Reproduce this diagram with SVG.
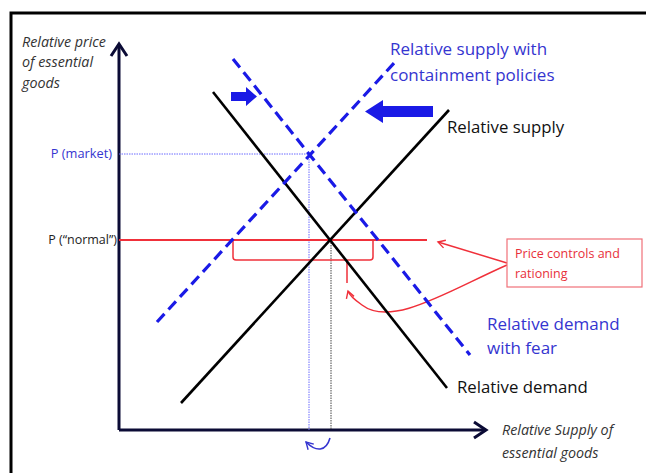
<svg xmlns="http://www.w3.org/2000/svg" width="646" height="473" viewBox="0 0 646 473">
<style>
.ax{stroke:#0b0b35;stroke-width:3;fill:none}
.blk{stroke:#000;stroke-width:2.6;fill:none}
.bd{stroke:#1a1ae6;stroke-width:3.2;fill:none;stroke-dasharray:11,6}
.red{stroke:#f0303a;fill:none}
.t{font-family:"Open Sans","Liberation Sans",sans-serif}
.ti{font-family:"Open Sans","Liberation Sans",sans-serif;font-style:italic;fill:#333;font-size:14.3px}
.blue{fill:#3535d0}
</style>
<defs>
<marker id="ra" markerWidth="10" markerHeight="10" refX="8" refY="5" orient="auto" markerUnits="userSpaceOnUse">
<path d="M1,1 L8,5 L1,9" fill="none" stroke="#f0303a" stroke-width="1.4"/>
</marker>
<marker id="ba" markerWidth="10" markerHeight="10" refX="8" refY="5" orient="auto" markerUnits="userSpaceOnUse">
<path d="M1,1 L8,5 L1,9" fill="none" stroke="#3535d0" stroke-width="1.4"/>
</marker>
</defs>
<rect width="646" height="473" fill="#fff"/>
<path d="M11,473 V13 H646" fill="none" stroke="#000" stroke-width="3"/>

<g id="axes">
<path class="ax" d="M119,430 V44"/>
<path class="ax" d="M111,56 L119,44 L127,56"/>
<path class="ax" d="M119,430 H486"/>
<path class="ax" d="M474,422 L486,430 L474,438"/>
<text class="ti" x="22" y="47">Relative price</text>
<text class="ti" x="22" y="67">of essential</text>
<text class="ti" x="22" y="88">goods</text>
<text class="ti" x="502" y="435" font-size="15">Relative Supply of</text>
<text class="ti" x="502" y="458" font-size="15">essential goods</text>
</g>

<g id="connectors">
<path d="M119,154 H309 V430" fill="none" stroke="#6b6bff" stroke-width="1" stroke-dasharray="1.5,1"/>
<path d="M331,240 V430" fill="none" stroke="#444" stroke-width="1" stroke-dasharray="1.5,1"/>
<path class="red" stroke-width="2.2" d="M119,240 H427"/>
<path class="red" stroke-width="1.5" d="M233,240 V257 Q233,260 236,260 H370 Q373,260 373,257 V240 M347,260 V283"/>
<path class="red" stroke-width="1.5" d="M507,263 L438,242" marker-end="url(#ra)"/>
<path class="red" stroke-width="1.5" d="M507,265 C450,290 392,328 362,305 C352,298 349,294 348,291" marker-end="url(#ra)"/>
<path d="M330,438 C326,452 316,452 306,442" fill="none" stroke="#3535d0" stroke-width="1.6" marker-end="url(#ba)"/>
</g>

<g id="relative-demand">
<path class="blk" d="M213,92 L447,388"/>
<text class="t" x="457" y="393" font-size="16.8" fill="#111">Relative demand</text>
</g>
<g id="relative-supply">
<path class="blk" d="M181,403 L449,110"/>
<text class="t" x="447" y="133" font-size="16.8" fill="#111">Relative supply</text>
</g>
<g id="supply-containment">
<path class="bd" d="M157,322 L395,62"/>
<text class="t blue" x="390" y="55" font-size="17">Relative supply with</text>
<text class="t blue" x="390" y="81" font-size="17">containment policies</text>
</g>
<g id="demand-fear">
<path class="bd" d="M233,59 L470,355"/>
<text class="t blue" x="487" y="330" font-size="17">Relative demand</text>
<text class="t blue" x="487" y="354" font-size="17">with fear</text>
</g>
<g id="shift-arrows">
<path d="M231,92 H246 V87 L257,96.5 L246,106 V101 H231 Z" fill="#1a1ae6"/>
<path d="M433,106 H383 V100 L365,111.5 L383,123 V117 H433 Z" fill="#1a1ae6"/>
</g>
<g id="price-labels">
<text class="t blue" x="112" y="158" font-size="12.8" text-anchor="end">P (market)</text>
<text class="t" x="117" y="244" font-size="12.5" text-anchor="end" fill="#222">P (“normal”)</text>
</g>
<g id="price-controls">
<rect x="507" y="239" width="135" height="48" fill="#fff" stroke="#f07078" stroke-width="1.2"/>
<text class="t" x="515" y="258" font-size="12.5" fill="#e8303a">Price controls and</text>
<text class="t" x="515" y="278" font-size="12.5" fill="#e8303a">rationing</text>
</g>
</svg>
